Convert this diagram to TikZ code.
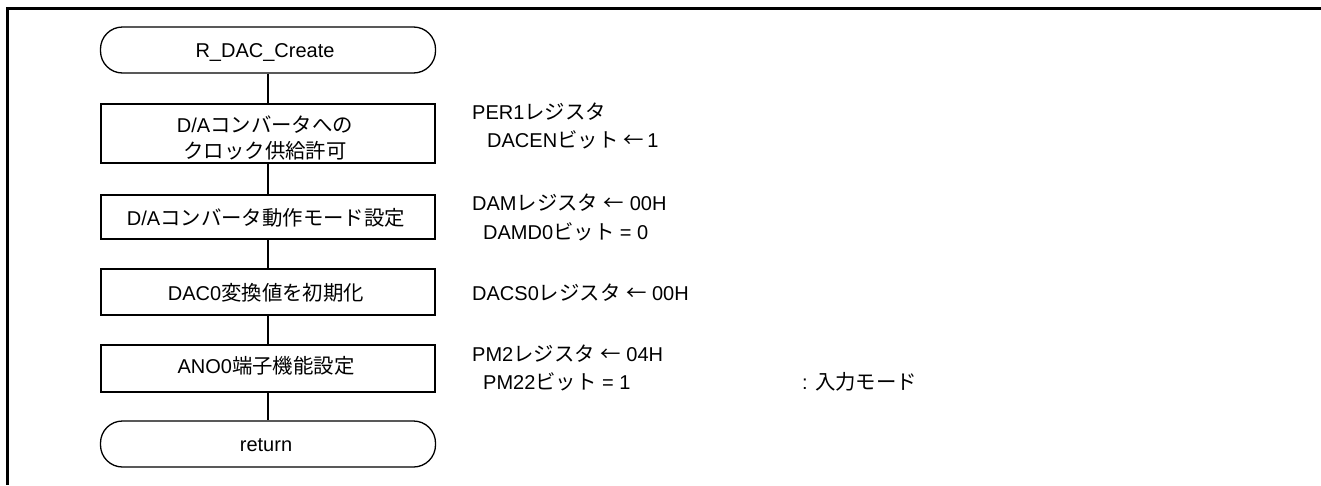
\documentclass[tikz,border=0pt]{standalone}
\usepackage{fontspec}
\setmainfont{Liberation Sans}
\newfontfamily\jpfont[Scale=1.02]{Noto Sans CJK JP}
\newcommand\J[1]{{\jpfont #1}}
\begin{document}
\begin{tikzpicture}[x=1pt,y=-1pt,
  txt/.style={font=\fontsize{20}{26}\selectfont, inner sep=0pt},
  procbox/.style={draw, line width=1.3pt, minimum width=334pt, inner sep=0pt},
  termbox/.style={draw, line width=1.3pt, rounded corners=22pt, minimum width=335pt, minimum height=46pt, inner sep=0pt},
  link/.style={line width=1.3pt}]
\useasboundingbox (0,0) rectangle (1321,485);
\draw[line width=3pt] (1321,8) -- (7.5,8) -- (7.5,485);

% flow shapes
\node[termbox] (start) at (268,50) {};
\node[procbox, minimum height=59pt] (b1) at (268,133.5) {};
\node[procbox, minimum height=44pt] (b2) at (268,217) {};
\node[procbox, minimum height=46pt] (b3) at (268,292) {};
\node[procbox, minimum height=47pt] (b4) at (268,368.5) {};
\node[termbox] (end) at (268,444) {};

\draw[link] (start) -- (b1);
\draw[link] (b1) -- (b2);
\draw[link] (b2) -- (b3);
\draw[link] (b3) -- (b4);
\draw[link] (b4) -- (end);

% texts inside shapes
\node[txt, anchor=base] (t0) at (265,57.3) {R\_DAC\_Create};
\node[txt, anchor=base] (t1a) at (265,132.7) {D/A\J{コンバータへの}};
\node[txt, anchor=base] (t1b) at (265,158.5) {\J{クロック供給許可}};
\node[txt, anchor=base] (t2) at (266,225) {D/A\J{コンバータ動作モード設定}};
\node[txt, anchor=base] (t3) at (266,300) {DAC0\J{変換値を初期化}};
\node[txt, anchor=base] (t4) at (266,373) {ANO0\J{端子機能設定}};
\node[txt, anchor=base] (t5) at (266,451) {return};

% register notes
\node[txt, anchor=base west] (r1a) at (472,119) {PER1\J{レジスタ}};
\node[txt, anchor=base west] (r1b) at (487,147) {DACEN\J{ビット} \J{←}\hspace{3pt}1};
\node[txt, anchor=base west] (r2a) at (472,210) {DAM\J{レジスタ} \J{←} 00H};
\node[txt, anchor=base west] (r2b) at (483,239) {DAMD0\J{ビット} = 0};
\node[txt, anchor=base west] (r3) at (472,300) {DACS0\J{レジスタ} \J{←} 00H};
\node[txt, anchor=base west] (r4a) at (472,361.5) {PM2\J{レジスタ} \J{←} 04H};
\node[txt, anchor=base west] (r4b) at (483,389) {PM22\J{ビット} = 1};
\node[txt, anchor=base west] (r4c) at (802,389) {: \J{入力モード}};
\end{tikzpicture}
\end{document}
